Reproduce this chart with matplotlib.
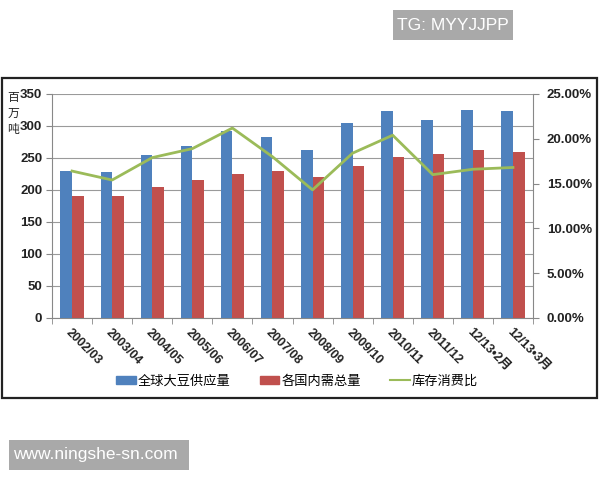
import matplotlib
matplotlib.use("Agg")
import matplotlib.pyplot as plt
from matplotlib.patches import Rectangle, Patch
from matplotlib.lines import Line2D
from matplotlib.ticker import FuncFormatter, FixedLocator
import numpy as np

plt.rcParams['font.family'] = ['Noto Sans CJK SC', 'DejaVu Sans']
NUMFONT = ['Liberation Sans', 'Noto Sans CJK SC', 'DejaVu Sans']

categories = ["2002/03", "2003/04", "2004/05", "2005/06", "2006/07", "2007/08",
              "2008/09", "2009/10", "2010/11", "2011/12", "12/13•2月", "12/13•3月"]
supply = [230, 228, 255, 268, 292, 283, 263, 304, 323, 309, 325, 323]
demand = [190, 190, 205, 215, 225, 229, 221, 238, 252, 256, 263, 260]
ratio = [16.4, 15.4, 17.9, 18.9, 21.2, 18.0, 14.3, 18.4, 20.4, 16.0, 16.6, 16.8]

blue = "#4F81BD"
red = "#C0504D"
green = "#9BBB59"

fig = plt.figure(figsize=(6, 4.8), dpi=100)
fig.patch.set_facecolor("white")

# chart frame
fig.patches.append(Rectangle((2/600, 1-398/480), 595/600, 320/480, transform=fig.transFigure,
                             fill=False, edgecolor="#222222", linewidth=1.6))

ax = fig.add_axes([52/600, 1-318/480, 481/600, 224/480])
x = np.arange(len(categories))
w = 0.29
ax.bar(x - w/2, supply, width=w, color=blue, zorder=3)
ax.bar(x + w/2, demand, width=w, color=red, zorder=3)
ax.set_xlim(-0.5, len(categories) - 0.5)
ax.set_ylim(0, 350)
ax.set_yticks(range(0, 351, 50))
ax.yaxis.grid(True, color="#9a9a9a", linewidth=0.8, zorder=0)
ax.set_axisbelow(True)
for s in ["top", "right"]:
    ax.spines[s].set_visible(False)
ax.spines["left"].set_color("#888888")
ax.spines["bottom"].set_color("#888888")
ax.xaxis.set_major_locator(FixedLocator(x))
ax.set_xticklabels(categories, rotation=-45, ha="left", va="top", rotation_mode="anchor",
                   fontsize=9, fontweight="bold", color="#222222", family=NUMFONT)
ax.tick_params(axis="x", length=0, pad=6)
ax.xaxis.set_minor_locator(FixedLocator(np.arange(-0.5, len(categories), 1.0)))
ax.tick_params(axis="x", which="minor", length=4, color="#888888")
ax.tick_params(axis="y", length=4, color="#888888", labelsize=9.5, pad=3)
for lab in ax.get_yticklabels():
    lab.set_fontweight("bold")
    lab.set_color("#222222")
    lab.set_family(NUMFONT)

ax2 = ax.twinx()
ax2.plot(x, ratio, color=green, linewidth=2, zorder=4)
ax2.set_ylim(0, 25)
ax2.set_yticks(range(0, 26, 5))
ax2.yaxis.set_major_formatter(FuncFormatter(lambda v, p: f"{v:.2f}%"))
for s in ["top", "left", "bottom"]:
    ax2.spines[s].set_visible(False)
ax2.spines["right"].set_color("#888888")
ax2.tick_params(axis="y", length=4, color="#888888", labelsize=9.5, pad=6)
for lab in ax2.get_yticklabels():
    lab.set_fontweight("bold")
    lab.set_color("#222222")
    lab.set_family(NUMFONT)

fig.text(13/600, 1-113/480, "百\n万\n吨", ha="center", va="center", fontsize=8.5,
         linespacing=1.3, color="#222222")

handles = [Patch(color=blue), Patch(color=red), Line2D([0], [0], color=green, linewidth=1.5)]
labels = ["全球大豆供应量", "各国内需总量", "库存消费比"]
fig.legend(handles, labels, loc="center", bbox_to_anchor=(0.495, 1-381/480), ncol=3,
           frameon=False, fontsize=9.5, handlelength=1.5, handleheight=0.5,
           handletextpad=0.15, columnspacing=2.2)

# watermark boxes
fig.patches.append(Rectangle((393/600, 1-40/480), 120/600, 30/480, transform=fig.transFigure,
                             facecolor="#a9a9a9", edgecolor="none"))
fig.text(397/600, 1-25/480, "TG: MYYJJPP", ha="left", va="center", fontsize=12.5,
         color="white", family="Liberation Sans")
fig.patches.append(Rectangle((9/600, 1-470/480), 180/600, 30/480, transform=fig.transFigure,
                             facecolor="#a9a9a9", edgecolor="none"))
fig.text(13/600, 1-455/480, "www.ningshe-sn.com", ha="left", va="center", fontsize=12.5,
         color="white", family="Liberation Sans")

fig.savefig("out.png", dpi=100, facecolor="white")
